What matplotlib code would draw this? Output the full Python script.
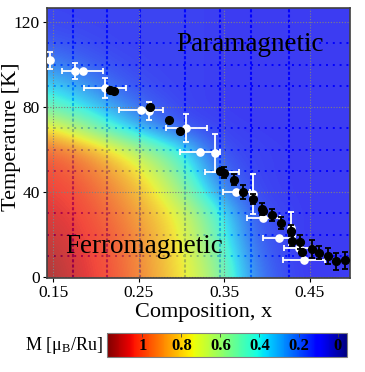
import numpy as np
import matplotlib
matplotlib.use('Agg')
import matplotlib.pyplot as plt
from matplotlib.colors import Normalize
from matplotlib import cm
from matplotlib.transforms import blended_transform_factory

plt.rcParams['font.family'] = ['Liberation Serif', 'DejaVu Serif']
plt.rcParams['mathtext.fontset'] = 'custom'
plt.rcParams['mathtext.rm'] = 'Liberation Serif'
plt.rcParams['mathtext.it'] = 'Liberation Serif:italic'
plt.rcParams['mathtext.bf'] = 'Liberation Serif:bold'

# ---------------- data ----------------
# magnetization map M(x, T) read on a coarse grid
map_x = [0.14, 0.18, 0.22, 0.26, 0.30, 0.34, 0.38, 0.42, 0.46, 0.50]
map_T = [0, 10, 20, 30, 40, 50, 60, 70, 80, 90, 100, 110, 120, 130]
M_T0 = [1.16, 1.08, 1.02, 0.90, 0.77, 0.60, 0.25, 0.13, 0.10, 0.08]
M_T10 = [1.14, 1.07, 1.01, 0.89, 0.76, 0.56, 0.22, 0.12, 0.10, 0.08]
M_T20 = [1.11, 1.06, 1.00, 0.88, 0.74, 0.50, 0.18, 0.12, 0.10, 0.08]
M_T30 = [1.08, 1.05, 0.97, 0.85, 0.72, 0.45, 0.16, 0.12, 0.10, 0.08]
M_T40 = [1.06, 1.03, 0.93, 0.81, 0.60, 0.28, 0.13, 0.11, 0.10, 0.08]
M_T50 = [1.04, 0.99, 0.88, 0.73, 0.50, 0.20, 0.12, 0.11, 0.10, 0.08]
M_T60 = [0.99, 0.92, 0.77, 0.58, 0.40, 0.14, 0.12, 0.11, 0.10, 0.08]
M_T70 = [0.80, 0.62, 0.42, 0.27, 0.15, 0.12, 0.11, 0.10, 0.10, 0.08]
M_T80 = [0.50, 0.40, 0.28, 0.17, 0.12, 0.11, 0.10, 0.10, 0.10, 0.08]
M_T90 = [0.38, 0.28, 0.18, 0.13, 0.12, 0.11, 0.10, 0.10, 0.10, 0.08]
M_T100 = [0.25, 0.18, 0.14, 0.12, 0.12, 0.11, 0.10, 0.10, 0.10, 0.08]
M_T110 = [0.16, 0.14, 0.12, 0.12, 0.12, 0.11, 0.10, 0.10, 0.10, 0.08]
M_T120 = [0.13, 0.12, 0.12, 0.12, 0.12, 0.11, 0.10, 0.10, 0.10, 0.08]
M_T130 = [0.12, 0.12, 0.12, 0.12, 0.12, 0.11, 0.10, 0.10, 0.10, 0.08]
M_grid = [M_T0, M_T10, M_T20, M_T30, M_T40, M_T50, M_T60, M_T70,
          M_T80, M_T90, M_T100, M_T110, M_T120, M_T130]

# open (white) symbols
white_x = [0.1465, 0.176, 0.1845, 0.2105, 0.253, 0.262, 0.3055, 0.3217,
           0.339, 0.347, 0.364, 0.383, 0.3957, 0.4275, 0.414, 0.4372, 0.443]
white_T = [101.9, 96.9, 96.9, 88.9, 78.5, 78.0, 70.1, 58.8,
           58.2, 49.6, 40.2, 39.2, 27.8, 23.0, 18.5, 13.5, 7.8]
white_xerr = [0, 0, 0.024, 0.025, 0.0256, 0, 0.024, 0.023,
              0, 0.02, 0.0155, 0, 0.0195, 0, 0.019, 0.0175, 0.024]
white_Terr = [3.8, 3.9, 0, 4.7, 0, 4.3, 6.5, 0,
              8.9, 0, 0, 9.4, 0, 7.8, 0, 0, 0]

# filled (black) symbols
black_x = [0.2163, 0.221, 0.2628, 0.285, 0.2977, 0.345, 0.350, 0.3616,
           0.372, 0.3837, 0.3945, 0.3957, 0.4055, 0.4167, 0.4275, 0.4294,
           0.4384, 0.441, 0.452, 0.4605, 0.471, 0.481, 0.4915]
black_T = [87.8, 87.5, 80.0, 74.0, 68.5, 49.9, 49.1, 45.9,
           40.0, 36.8, 32.1, 30.9, 29.3, 25.4, 21.9, 17.2,
           16.5, 12.0, 13.3, 11.4, 9.9, 7.5, 7.8]
black_Terr = [0, 0, 0, 0, 0, 0, 2.7, 2.7,
              3.3, 2.4, 2.7, 0, 2.7, 2.7, 2.7, 2.7,
              3.1, 0, 4.1, 3.0, 3.9, 4.0, 4.0]

# measured compositions (blue vertical guide lines)
sample_x = [0.173, 0.213, 0.251, 0.304, 0.345, 0.381, 0.426]
minor_T = [10, 20, 30, 50, 60, 70, 90, 100, 110]

x_ticks = [0.15, 0.25, 0.35, 0.45]
x_ticklabels = ['0.15', '0.25', '0.35', '0.45']
T_ticks = [0, 40, 80, 120]
cbar_ticks = [1.0, 0.8, 0.6, 0.4, 0.2, 0.0]
cbar_ticklabels = ['1', '0.8', '0.6', '0.4', '0.2', '0']

# ---------------- figure ----------------
fig = plt.figure(figsize=(3.65, 3.72), dpi=100)
ax = fig.add_axes([47 / 365, 1 - 277.7 / 372, 303 / 365, 269.7 / 372])
ax.set_facecolor('#d4d4d4')

norm = Normalize(vmin=-0.05, vmax=1.18)
dx = map_x[1] - map_x[0]
dT = map_T[1] - map_T[0]
extent = [map_x[0] - dx / 2, map_x[-1] + dx / 2, map_T[0] - dT / 2, map_T[-1] + dT / 2]

# guide lines below the semi-transparent map
for xv in sample_x:
    ax.axvline(xv, color='#0000ff', lw=1.5, ls=(0, (1.5, 1)), zorder=0.5)
for tv in minor_T:
    ax.axhline(tv, color='#0000ff', lw=1.4, ls=(0, (1, 2.5)), zorder=0.5)

ax.imshow(np.array(M_grid), origin='lower', extent=extent, aspect='auto',
          cmap='jet', norm=norm, interpolation='bicubic', alpha=0.72, zorder=1)

for xv in x_ticks:
    ax.axvline(xv, color='#808080', lw=0.8, ls=(0, (1, 1.5)), zorder=2)
for tv in T_ticks:
    ax.axhline(tv, color='#808080', lw=0.8, ls=(0, (1, 1.5)), zorder=2)

ax.errorbar(white_x, white_T, xerr=white_xerr, yerr=white_Terr, fmt='o',
            color='white', ms=5.2, capsize=2.5, elinewidth=1.3, capthick=1.3,
            zorder=3)
ax.errorbar(black_x, black_T, yerr=black_Terr, fmt='o', color='black',
            ms=5.6, capsize=2.5, elinewidth=1.3, capthick=1.3, zorder=4)

ax.text(0.294, 106.6, 'Paramagnetic', fontsize=19.5, va='baseline', zorder=5)
ax.text(0.164, 11.3, 'Ferromagnetic', fontsize=19.5, va='baseline', zorder=5)

ax.set_xlim(0.1427, 0.4968)
ax.set_ylim(-0.3, 126.6)
ax.set_xticks(x_ticks)
ax.set_xticklabels(x_ticklabels)
ax.set_yticks(T_ticks)
ax.tick_params(labelsize=12.5, length=3, width=0.8, pad=2, direction='out')
for sp in ax.spines.values():
    sp.set_color('#404040')
    sp.set_linewidth(1.2)

fig.text(12 / 365, 1 - 136.5 / 372, 'Temperature [K]', rotation=90,
         ha='center', va='center', fontsize=16)
fig.text(204 / 365, 1 - 312 / 372, 'Composition, x', ha='center',
         va='center', fontsize=16)

# colorbar
cax = fig.add_axes([107.3 / 365, 1 - 357.3 / 372, 240 / 365, 24 / 372])
cb = fig.colorbar(cm.ScalarMappable(norm=norm, cmap='jet'), cax=cax,
                  orientation='horizontal')
cax.invert_xaxis()
cb.set_ticks(cbar_ticks)
cax.tick_params(direction='in', length=3, width=0.6, top=True, bottom=False,
                labelbottom=False, color='#404040')
cb.outline.set_edgecolor('#808080')
cb.outline.set_linewidth(0.8)
trans = blended_transform_factory(cax.transData, cax.transAxes)
for v, lab in zip(cbar_ticks, cbar_ticklabels):
    cax.text(v, 0.45, lab, transform=trans, ha='center', va='center',
             fontsize=12, fontweight='bold')
fig.text(103 / 365, 1 - 345 / 372, r'M [$\mathregular{\mu_B}$/Ru]',
         ha='right', va='center', fontsize=13)

fig.savefig('out.png', dpi=100)
